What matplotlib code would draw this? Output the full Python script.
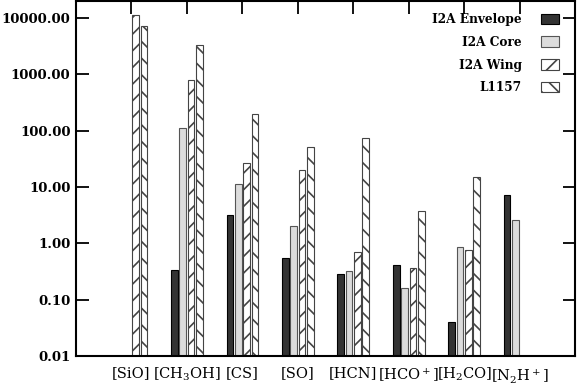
import numpy as np
import matplotlib.pyplot as plt

plt.rcParams['font.family'] = 'DejaVu Serif'
plt.rcParams['mathtext.fontset'] = 'dejavuserif'
plt.rcParams['hatch.linewidth'] = 1.2

molecules = [r'[SiO]', r'[CH$_3$OH]', r'[CS]', r'[SO]', r'[HCN]',
             r'[HCO$^+$]', r'[H$_2$CO]', r'[N$_2$H$^+$]']
# nan = no bar
envelope = [np.nan, 0.335, 3.15, 0.56, 0.29, 0.41, 0.040, 7.1]
core = [np.nan, 112, 11.2, 2.03, 0.32, 0.162, 0.85, 2.57]
wing = [11200, 800, 27, 20, 0.69, 0.365, 0.75, np.nan]
l1157 = [7100, 3380, 200, 51, 74, 3.76, 15.3, np.nan]
yticks = [0.01, 0.1, 1, 10, 100, 1000, 10000]

fig = plt.figure(figsize=(5.77, 3.87), dpi=100)
ax = fig.add_axes([0.1317, 0.080, 0.865, 0.917])

x = np.arange(1, len(molecules) + 1)
w = 0.12
ax.bar(x - 0.225, envelope, w, facecolor='#333333', edgecolor='black', lw=0.8, label='I2A Envelope')
ax.bar(x - 0.075, core, w, facecolor='#dcdcdc', edgecolor='#555555', lw=0.8, label='I2A Core')
ax.bar(x + 0.075, wing, w, facecolor='white', edgecolor='#444444', lw=0.8, hatch='//', label='I2A Wing')
ax.bar(x + 0.225, l1157, w, facecolor='white', edgecolor='#444444', lw=0.8, hatch='\\\\', label='L1157')

ax.set_yscale('log')
ax.set_ylim(0.01, 20000)
ax.set_xlim(0, 9)
ax.set_yticks(yticks)
ax.set_yticklabels(['%.2f' % v for v in yticks], fontsize=9.5, fontweight='bold')
ax.minorticks_off()
ax.set_xticks(x)
ax.set_xticklabels(molecules, fontsize=10.5)

for s in ax.spines.values():
    s.set_linewidth(1.5)
ax.tick_params(axis='y', direction='in', length=9, width=1.3, right=True, pad=4)
ax.tick_params(axis='x', direction='in', length=9, width=1.3, top=True, bottom=False, pad=7)

ax.legend(loc='upper right', bbox_to_anchor=(0.984, 0.99), frameon=False, markerfirst=False,
          handlelength=1.45, handleheight=1.0, labelspacing=0.8, borderaxespad=0.3,
          handletextpad=1.6, prop={'family': 'DejaVu Serif', 'weight': 'bold', 'size': 8.7})

plt.savefig('out.png')
